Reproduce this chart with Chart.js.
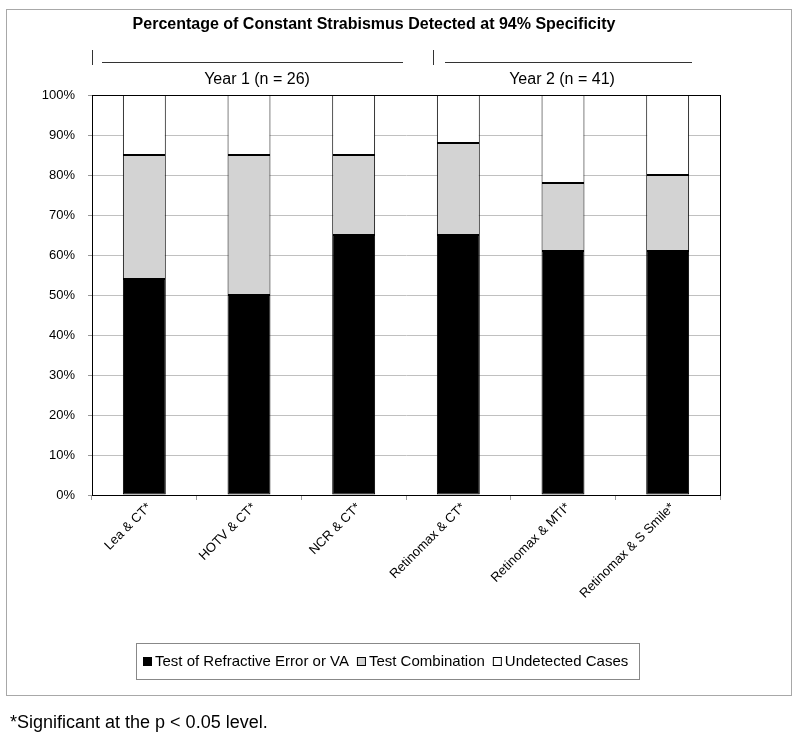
<!DOCTYPE html>
<html>
<head>
<meta charset="utf-8">
<title>Percentage of Constant Strabismus Detected at 94% Specificity</title>
<script src="https://cdn.jsdelivr.net/npm/chart.js@4.4.0/dist/chart.umd.min.js"></script>
<style>
    body { margin: 0; background: #fff; }
    #wrap { position: relative; width: 800px; height: 739px; }
</style>
</head>
<body>
<div id="wrap">
    <canvas id="myChart" width="800" height="739"></canvas>
</div>
<script>

// ===============================
// DATA
// ===============================

const categories = [
    'Lea & CT*',
    'HOTV & CT*',
    'NCR & CT*',
    'Retinomax & CT*',
    'Retinomax & MTI*',
    'Retinomax & S Smile*'
];

const refractiveVA = [54, 50, 65, 65, 61, 61];
const testCombination = [31, 35, 20, 23, 17, 19];
const undetectedCases = [15, 15, 15, 12, 22, 20];

const seriesNames = [
    'Test of Refractive Error or VA',
    'Test Combination',
    'Undetected Cases'
];

const groupLabels = ['Year 1 (n = 26)', 'Year 2 (n = 41)'];

const chartTitle = 'Percentage of Constant Strabismus Detected at 94% Specificity';
const footnote = '*Significant at the p < 0.05 level.';

const fontFamily = "'Liberation Sans', Arial, Helvetica, sans-serif";

Chart.defaults.font.family = fontFamily;
Chart.defaults.color = '#000';

// ===============================
// EXTRA DRAWING (frame, title, groups, legend, footnote)
// ===============================

const decorPlugin = {
    id: 'decor',
    afterDraw(chart) {
        const ctx = chart.ctx;
        const area = chart.chartArea;

        ctx.save();

        // outer frame
        ctx.strokeStyle = '#a8a8a8';
        ctx.lineWidth = 1;
        ctx.strokeRect(6.5, 9.5, 785, 686);

        // plot frame
        ctx.strokeStyle = '#000';
        ctx.strokeRect(
            Math.round(area.left) + 0.5,
            Math.round(area.top) + 0.5,
            Math.round(area.right - area.left),
            Math.round(area.bottom - area.top)
        );

        // title
        ctx.fillStyle = '#000';
        ctx.font = 'bold 16px ' + fontFamily;
        ctx.textAlign = 'center';
        ctx.textBaseline = 'middle';
        ctx.fillText(chartTitle, 374, 25);

        // group markers
        ctx.strokeStyle = '#333';
        ctx.beginPath();
        ctx.moveTo(92.5, 50); ctx.lineTo(92.5, 65);
        ctx.moveTo(433.5, 50); ctx.lineTo(433.5, 65);
        ctx.moveTo(102, 62.5); ctx.lineTo(403, 62.5);
        ctx.moveTo(445, 62.5); ctx.lineTo(692, 62.5);
        ctx.stroke();

        ctx.font = '16px ' + fontFamily;
        ctx.fillText(groupLabels[0], 257, 80);
        ctx.fillText(groupLabels[1], 562, 80);

        // legend
        ctx.strokeStyle = '#888';
        ctx.strokeRect(136.5, 643.5, 503, 36);

        ctx.font = '15px ' + fontFamily;
        ctx.textAlign = 'left';
        let x = 143;
        const yMid = 662;
        chart.data.datasets.forEach((ds) => {
            ctx.fillStyle = ds.backgroundColor;
            ctx.fillRect(x, yMid - 5, 9, 9);
            ctx.strokeStyle = '#000';
            ctx.strokeRect(x + 0.5, yMid - 4.5, 8, 8);
            ctx.fillStyle = '#000';
            ctx.fillText(ds.label, x + 12, yMid);
            x += 12 + ctx.measureText(ds.label).width + 8;
        });

        // footnote
        ctx.font = '18px ' + fontFamily;
        ctx.fillText(footnote, 10, 723);

        ctx.restore();
    }
};

// ===============================
// CHART
// ===============================

const ctx = document.getElementById('myChart').getContext('2d');

const myChart = new Chart(ctx, {

    type: 'bar',

    data: {
        labels: categories,
        datasets: [
            {
                label: seriesNames[0],
                data: refractiveVA,
                backgroundColor: '#000000',
                borderColor: '#000',
                borderWidth: 1,
                borderSkipped: false
            },
            {
                label: seriesNames[1],
                data: testCombination,
                backgroundColor: '#d3d3d3',
                borderColor: '#000',
                borderWidth: 1,
                borderSkipped: false
            },
            {
                label: seriesNames[2],
                data: undetectedCases,
                backgroundColor: '#ffffff',
                borderColor: '#000',
                borderWidth: 1,
                borderSkipped: false
            }
        ]
    },

    options: {
        responsive: false,
        animation: false,
        layout: {
            padding: { left: 0, right: 80, top: 95, bottom: 94 }
        },
        datasets: {
            bar: { barPercentage: 0.41, categoryPercentage: 1.0 }
        },
        plugins: {
            legend: { display: false },
            title: { display: false },
            tooltip: { enabled: false }
        },
        scales: {
            x: {
                stacked: true,
                afterFit(scale) { scale.height = 150; },
                grid: {
                    display: true,
                    drawOnChartArea: false,
                    offset: true,
                    tickLength: 5,
                    tickColor: '#999'
                },
                border: { color: '#000', width: 1 },
                ticks: {
                    autoSkip: false,
                    maxRotation: 45,
                    minRotation: 45,
                    padding: 0,
                    labelOffset: 5,
                    font: { size: 13 },
                    color: '#000'
                }
            },
            y: {
                stacked: true,
                min: 0,
                max: 100,
                afterFit(scale) { scale.width = 92; },
                grid: {
                    color: '#c0c0c0',
                    tickLength: 4,
                    tickColor: '#999'
                },
                border: { color: '#000', width: 1 },
                ticks: {
                    stepSize: 10,
                    padding: 13,
                    font: { size: 13 },
                    color: '#000',
                    callback: (v) => v + '%'
                }
            }
        }
    },

    plugins: [decorPlugin]
});

</script>
</body>
</html>
